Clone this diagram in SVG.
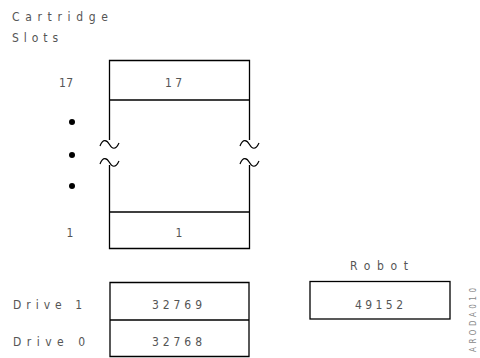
<svg xmlns="http://www.w3.org/2000/svg" width="480" height="358" viewBox="0 0 480 358">
<style>
.t{font-family:"Liberation Sans Narrow","DejaVu Sans Condensed","Liberation Sans",sans-serif;font-size:12px;fill:#555;}
.s{font-family:"Liberation Sans Narrow","DejaVu Sans Condensed","Liberation Sans",sans-serif;font-size:8px;fill:#888;}
.b{fill:none;stroke:#000;stroke-width:1.3;}
.w{fill:none;stroke:#000;stroke-width:1.2;}
</style>
<rect width="480" height="358" fill="#fff"/>
<g id="title">
<text class="t" x="12" y="21" textLength="96" lengthAdjust="spacing">Cartridge</text>
<text class="t" x="12" y="42" textLength="46" lengthAdjust="spacing">Slots</text>
</g>
<g id="slots">
<path class="b" d="M109.5,140 V60.5 H249.5 V140 M109.5,165 V248.5 H249.5 V165 M109.5,100 H249.5 M109.5,212 H249.5"/>
<path class="w" d="M100,146 c3,-8 7,-6 9.5,-1.5 s6,6 9.5,-1.5 M100,164 c3,-8 7,-6 9.5,-1.5 s6,6 9.5,-1.5 M240,146 c3,-8 7,-6 9.5,-1.5 s6,6 9.5,-1.5 M240,164 c3,-8 7,-6 9.5,-1.5 s6,6 9.5,-1.5"/>
<text class="t" x="59" y="87" textLength="14" lengthAdjust="spacing">17</text>
<text class="t" x="165" y="87" textLength="17" lengthAdjust="spacing">17</text>
<text class="t" x="70" y="237" text-anchor="middle">1</text>
<text class="t" x="179" y="237" text-anchor="middle">1</text>
<circle cx="72" cy="122" r="3" fill="#000"/>
<circle cx="72" cy="155" r="3" fill="#000"/>
<circle cx="72" cy="186" r="3" fill="#000"/>
</g>
<g id="drives">
<path class="b" d="M110,282.5 H249 V356.5 H110 Z M110,320 H249"/>
<text class="t" x="13" y="309" textLength="69" lengthAdjust="spacing">Drive 1</text>
<text class="t" x="13" y="346" textLength="72" lengthAdjust="spacing">Drive 0</text>
<text class="t" x="152" y="309" textLength="50" lengthAdjust="spacing">32769</text>
<text class="t" x="152" y="346" textLength="50" lengthAdjust="spacing">32768</text>
</g>
<g id="robot">
<rect class="b" x="310" y="281.5" width="140" height="37.5"/>
<text class="t" x="350" y="270" textLength="58" lengthAdjust="spacing">Robot</text>
<text class="t" x="355" y="309" textLength="48" lengthAdjust="spacing">49152</text>
</g>
<g id="figid">
<text class="s" transform="translate(476,352) rotate(-90)" textLength="64" lengthAdjust="spacing">ARODA010</text>
</g>
</svg>
